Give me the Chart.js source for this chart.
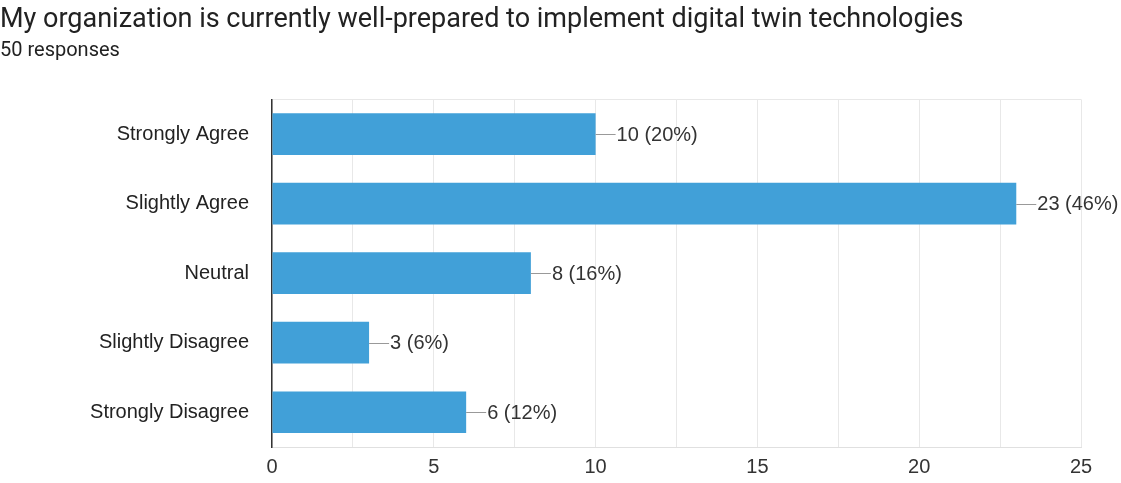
<!DOCTYPE html>
<html>
<head>
<meta charset="utf-8">
<script src="https://cdn.jsdelivr.net/npm/chart.js@4"></script>
<style>
  html, body { margin: 0; padding: 0; background: #fff; }
  #wrap { width: 1121px; height: 483px; }
</style>
</head>
<body>
<div id="wrap"><canvas id="grafico"></canvas></div>
<script>
const pergunta = "My organization is currently well-prepared to implement digital twin technologies";
const respostas = 50;
const categorias = ["Strongly Agree", "Slightly Agree", "Neutral", "Slightly Disagree", "Strongly Disagree"];
const contagens = [10, 23, 8, 3, 6];
const ticksX = [0, 5, 10, 15, 20, 25];

const fonteEixo = "'Liberation Sans', Arial, sans-serif";

// linha curta + texto "n (p%)" na ponta de cada barra
const rotulosBarras = {
  id: "rotulosBarras",
  afterDatasetsDraw(chart) {
    const ctx = chart.ctx;
    const meta = chart.getDatasetMeta(0);
    ctx.save();
    ctx.font = "20px " + fonteEixo;
    ctx.textBaseline = "middle";
    ctx.textAlign = "left";
    meta.data.forEach((bar, i) => {
      const v = contagens[i];
      const pct = Math.round(v / respostas * 100);
      ctx.strokeStyle = "#999";
      ctx.lineWidth = 1;
      ctx.beginPath();
      ctx.moveTo(bar.x, Math.round(bar.y) + 0.5);
      ctx.lineTo(bar.x + 20, Math.round(bar.y) + 0.5);
      ctx.stroke();
      ctx.fillStyle = "#333";
      ctx.fillText(`${v} (${pct}%)`, bar.x + 21, bar.y + 1);
    });
    ctx.restore();
  }
};

new Chart(document.getElementById("grafico"), {
  type: "bar",
  data: {
    labels: categorias,
    datasets: [{
      data: contagens,
      backgroundColor: "#41a0d8",
      barPercentage: 0.6,
      categoryPercentage: 1
    }]
  },
  plugins: [rotulosBarras],
  options: {
    indexAxis: "y",
    responsive: true,
    maintainAspectRatio: false,
    animation: false,
    layout: { padding: { left: 0, right: 40, top: 0, bottom: 0 } },
    plugins: {
      legend: { display: false },
      tooltip: { enabled: false },
      title: {
        display: true,
        text: pergunta,
        align: "start",
        color: "#222",
        font: { family: "Roboto", size: 27, weight: "normal" },
        padding: { top: 4, bottom: 3 }
      },
      subtitle: {
        display: true,
        text: respostas + " responses",
        align: "start",
        color: "#222",
        font: { family: "Roboto", size: 20 },
        padding: { top: 0, bottom: 36 }
      }
    },
    scales: {
      x: {
        min: 0,
        max: 25,
        ticks: {
          stepSize: 2.5,
          color: "#333",
          font: { family: fonteEixo, size: 20 },
          padding: 8,
          maxRotation: 0,
          callback: (v) => ticksX.includes(v) ? v : ""
        },
        grid: { color: "#e8e8e8", drawTicks: false },
        border: { color: "#e0e0e0" },
        afterFit: (eixo) => { eixo.height = 36; }
      },
      y: {
        ticks: {
          color: "#222",
          font: { family: fonteEixo, size: 20 },
          padding: 23
        },
        grid: {
          drawTicks: false,
          color: (c) => c.index === 0 ? "#e8e8e8" : "rgba(0,0,0,0)"
        },
        border: { color: "#333", width: 1.5 },
        afterFit: (eixo) => { eixo.width = 272; }
      }
    }
  }
});
</script>
</body>
</html>
